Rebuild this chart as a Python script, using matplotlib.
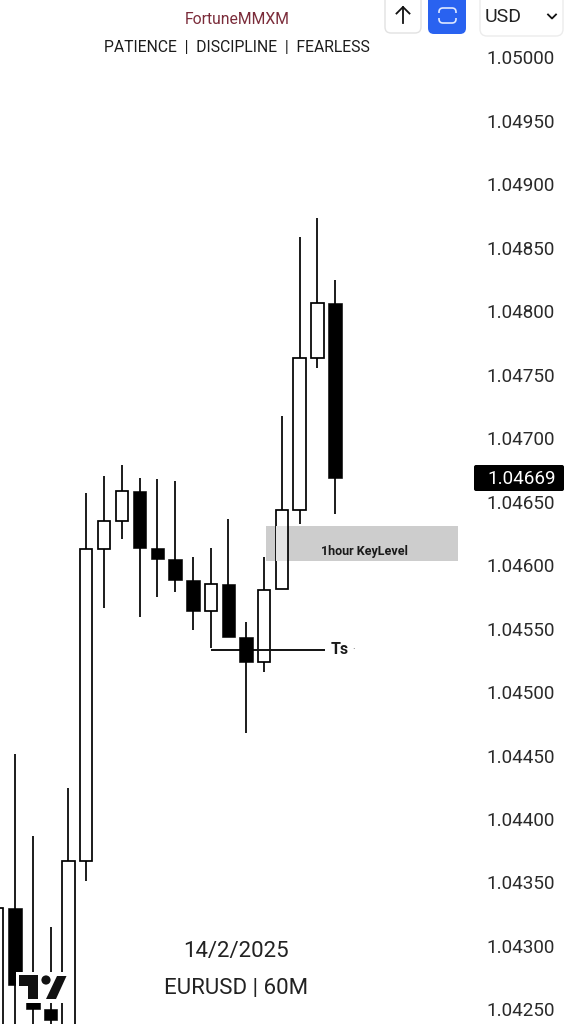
import matplotlib
matplotlib.use("Agg")
import matplotlib.pyplot as plt
from matplotlib.patches import Rectangle, FancyBboxPatch, Polygon, Circle
from matplotlib.transforms import ScaledTranslation

plt.rcParams['font.family'] = ['Roboto', 'DejaVu Sans']

# candles, oldest first (the first ones run off the bottom of the screen)
opens = [1.04225, 1.04330, 1.04256, 1.04251, 1.04225, 1.04367, 1.04613, 1.04635, 1.04659, 1.04614,
         1.04605, 1.04589, 1.04564, 1.04586, 1.04544, 1.04524, 1.04582, 1.04644, 1.04764, 1.04807]
highs = [1.04330, 1.04452, 1.04387, 1.04315, 1.04425, 1.04657, 1.04671, 1.04679, 1.04669, 1.04668,
         1.04667, 1.04607, 1.04614, 1.04637, 1.04556, 1.04607, 1.04718, 1.04859, 1.04874, 1.04825]
lows = [1.04225, 1.04225, 1.04225, 1.04225, 1.04225, 1.04352, 1.04567, 1.04621, 1.04560, 1.04575,
        1.04579, 1.04549, 1.04535, 1.04544, 1.04468, 1.04516, 1.04582, 1.04633, 1.04756, 1.04641]
closes = [1.04330, 1.04270, 1.04251, 1.04242, 1.04367, 1.04613, 1.04635, 1.04659, 1.04614, 1.04605,
          1.04589, 1.04564, 1.04586, 1.04544, 1.04524, 1.04581, 1.04644, 1.04764, 1.04807, 1.04669]

price_ticks = [1.05000, 1.04950, 1.04900, 1.04850, 1.04800, 1.04750, 1.04700, 1.04650,
               1.04600, 1.04550, 1.04500, 1.04450, 1.04400, 1.04350, 1.04300, 1.04250]
last_price = 1.04669
zone_top = 1.04631
zone_bottom = 1.04604
zone_start = 15.12
zone_end = 25.92
ts_level = 1.04534

fig = plt.figure(figsize=(5.66, 10.24), dpi=100, facecolor='white')
ax = fig.add_axes([0, 0, 1, 1])
ax.set_xlim(0.15, 0.15 + 566 / 17.78)
ax.set_ylim(1.05 - 966 / 126933, 1.05 + 58 / 126933)
for s in ax.spines.values():
    s.set_visible(False)
ax.set_xticks([])
ax.yaxis.tick_right()
ax.set_yticks(price_ticks)
ax.set_yticklabels(['%.5f' % p for p in price_ticks])
ax.tick_params(axis='y', length=0, pad=-57.6, labelsize=13.6, labelcolor='#2a2a2a')
nudge = ScaledTranslation(0, 0.6 / 100, fig.dpi_scale_trans)
for lab in ax.get_yticklabels():
    lab.set_horizontalalignment('left')
    lab.set_transform(lab.get_transform() + nudge)

# key level zone
ax.add_patch(Rectangle((zone_start, zone_bottom), zone_end - zone_start, zone_top - zone_bottom,
                       fc='#cdcdcd', ec='none', zorder=1))
ax.text(20.63, zone_bottom + 0.00007, '1hour KeyLevel', fontsize=9, fontweight='bold', color='#1a1a1a',
        ha='center', va='center', zorder=6)

# candles
for i in range(len(opens)):
    o, h, l, c = opens[i], highs[i], lows[i], closes[i]
    ax.plot([i, i], [l, h], color='black', lw=1.25, solid_capstyle='butt', zorder=2)
    if c >= o:
        ax.add_patch(Rectangle((i - 0.345, o), 0.69, c - o, fc='white', ec='black', lw=1.25, zorder=3))
        # body looks paler where it crosses the zone
        if i >= zone_start and o < zone_top and c > zone_bottom:
            lo = max(o, zone_bottom)
            hi = min(c, zone_top)
            ax.add_patch(Rectangle((i - 0.3, lo), 0.6, hi - lo, fc='#e4e4e4', ec='none', zorder=3.1))
    else:
        ax.add_patch(Rectangle((i - 0.38, c), 0.76, o - c, fc='black', ec='black', lw=0.4, zorder=5))

# Ts line
ax.plot([12, 18.42], [ts_level, ts_level], color='#111111', lw=1.4, zorder=4, solid_capstyle='butt')
ax.text(18.76, ts_level, 'Ts', fontsize=11.5, fontweight='bold', color='#1a1a1a', va='center', ha='left', zorder=6)
ax.text(20.05, ts_level, '·', fontsize=7, color='#555555', va='center', ha='center', zorder=6)

# overlay in screen pixels for the app chrome
ui = fig.add_axes([0, 0, 1, 1], facecolor='none')
ui.set_xlim(0, 566)
ui.set_ylim(1024, 0)
ui.axis('off')

ui.text(237, 19.5, 'FortuneMMXM', fontsize=11.3, color='#7b2c3a', ha='center', va='center')
ui.text(237, 47, 'PATIENCE  |  DISCIPLINE  |  FEARLESS', fontsize=11.3, color='#1c1c1c', ha='center', va='center')
ui.text(236, 951.5, '14/2/2025', fontsize=16, color='#222222', ha='center', va='center')
ui.text(236, 988.5, 'EURUSD | 60M', fontsize=16, color='#222222', ha='center', va='center')

# buttons
ui.add_patch(FancyBboxPatch((385, -10), 36, 43, boxstyle='round,pad=0,rounding_size=6', fc='white', ec='#e2e2e2', lw=1))
ui.plot([403, 403], [7, 23], color='#111111', lw=1.3)
ui.plot([396.5, 403, 409.5], [13.5, 7, 13.5], color='#111111', lw=1.3)
ui.add_patch(FancyBboxPatch((428, -10), 38, 44, boxstyle='round,pad=0,rounding_size=6', fc='#2962f0', ec='none'))
ui.add_patch(FancyBboxPatch((439, 8), 17, 15, boxstyle='round,pad=0,rounding_size=4', fc='none', ec='#dfe8ff', lw=1.2))
ui.add_patch(Rectangle((437, 13), 21, 5, fc='#2962f0', ec='none'))
ui.add_patch(FancyBboxPatch((480, -10), 83, 46, boxstyle='round,pad=0,rounding_size=7', fc='white', ec='#ececec', lw=1))
ui.text(485, 16.5, 'USD', fontsize=14, color='#222222', ha='left', va='center')
ui.plot([548, 552, 556], [14.5, 18.5, 14.5], color='#111111', lw=1.3)

# last price tag
ui.add_patch(FancyBboxPatch((474, 465), 90, 26, boxstyle='round,pad=0,rounding_size=2', fc='black', ec='none'))
ui.text(487, 478.5, '%.5f' % last_price, fontsize=13.6, color='white', ha='left', va='center')

# tradingview logo with its white halo
ui.add_patch(Rectangle((16, 972), 52, 31, fc='white', ec='none'))
ui.add_patch(Polygon([(19, 975), (38, 975), (38, 999), (28, 999), (28, 986), (19, 986)], fc='#111111', ec='none'))
ui.add_patch(Circle((46, 980), 4.6, fc='#111111', ec='none'))
ui.add_patch(Polygon([(46, 999), (57, 976), (66.5, 976), (56, 999)], fc='#111111', ec='none'))

fig.savefig('out.png', dpi=100)
